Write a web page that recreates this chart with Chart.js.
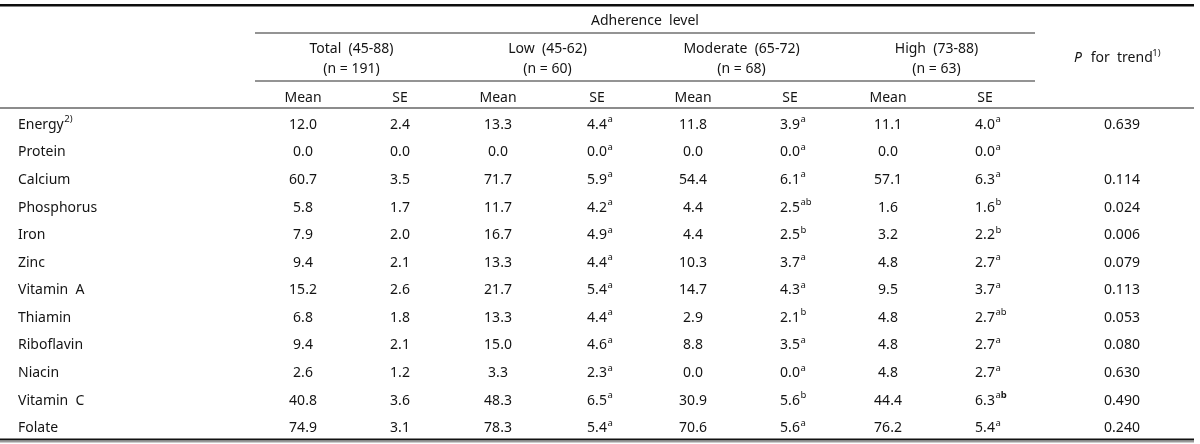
<!DOCTYPE html>
<html>
<head>
<meta charset="utf-8">
<title>Nutrient inadequacy by adherence level</title>
<script src="https://cdn.jsdelivr.net/npm/chart.js@4.4.0/dist/chart.umd.min.js"></script>
<style>
  html, body { margin: 0; padding: 0; background: #fff; }
  #wrap { width: 1200px; height: 444px; position: relative; }
</style>
</head>
<body>
<div id="wrap"><canvas id="tbl"></canvas></div>
<script>
// ---- table data ----
const nutrients = ['Energy', 'Protein', 'Calcium', 'Phosphorus', 'Iron', 'Zinc',
  'Vitamin  A', 'Thiamin', 'Riboflavin', 'Niacin', 'Vitamin  C', 'Folate'];
const nutrientNotes = ['2)', '', '', '', '', '', '', '', '', '', '', ''];

const groupTitles = ['Total  (45-88)', 'Low  (45-62)', 'Moderate  (65-72)', 'High  (73-88)'];
const groupSizes = ['(n = 191)', '(n = 60)', '(n = 68)', '(n = 63)'];

const totalMean = [12.0, 0.0, 60.7, 5.8, 7.9, 9.4, 15.2, 6.8, 9.4, 2.6, 40.8, 74.9];
const totalSE   = [2.4, 0.0, 3.5, 1.7, 2.0, 2.1, 2.6, 1.8, 2.1, 1.2, 3.6, 3.1];

const lowMean = [13.3, 0.0, 71.7, 11.7, 16.7, 13.3, 21.7, 13.3, 15.0, 3.3, 48.3, 78.3];
const lowSE   = [4.4, 0.0, 5.9, 4.2, 4.9, 4.4, 5.4, 4.4, 4.6, 2.3, 6.5, 5.4];
const lowSup  = ['a', 'a', 'a', 'a', 'a', 'a', 'a', 'a', 'a', 'a', 'a', 'a'];

const modMean = [11.8, 0.0, 54.4, 4.4, 4.4, 10.3, 14.7, 2.9, 8.8, 0.0, 30.9, 70.6];
const modSE   = [3.9, 0.0, 6.1, 2.5, 2.5, 3.7, 4.3, 2.1, 3.5, 0.0, 5.6, 5.6];
const modSup  = ['a', 'a', 'a', 'ab', 'b', 'a', 'a', 'b', 'a', 'a', 'b', 'a'];

const highMean = [11.1, 0.0, 57.1, 1.6, 3.2, 4.8, 9.5, 4.8, 4.8, 4.8, 44.4, 76.2];
const highSE   = [4.0, 0.0, 6.3, 1.6, 2.2, 2.7, 3.7, 2.7, 2.7, 2.7, 6.3, 5.4];
const highSup  = ['a', 'a', 'a', 'b', 'b', 'a', 'a', 'ab', 'a', 'a', 'a*b', 'a']; // *b = bold b

const pTrend = [0.639, null, 0.114, 0.024, 0.006, 0.079, 0.113, 0.053, 0.080, 0.630, 0.490, 0.240];

// ---- layout / style ----
const FONT = '"Noto Sans", "Open Sans", sans-serif';
const INK = '#141414';
const COL_X = {
  label: 18,
  totalMean: 303, totalSE: 400,
  lowMean: 498, lowSE: 597,
  modMean: 693, modSE: 790,
  highMean: 888, highSE: 985,
  p: 1122
};
const GROUP_COLS = [['totalMean', 'totalSE'], ['lowMean', 'lowSE'], ['modMean', 'modSE'], ['highMean', 'highSE']];

function column(key, texts, sups, align) {
  return {
    label: key,
    align: align || 'center',
    data: nutrients.map((n, i) => ({ x: COL_X[key], y: n, text: texts[i], sup: sups ? sups[i] : '' })),
    pointRadius: 0,
    showLine: false
  };
}
const f1 = arr => arr.map(v => v.toFixed(1));

const datasets = [
  column('label', nutrients, nutrientNotes, 'left'),
  column('totalMean', f1(totalMean)),
  column('totalSE', f1(totalSE)),
  column('lowMean', f1(lowMean)),
  column('lowSE', f1(lowSE), lowSup),
  column('modMean', f1(modMean)),
  column('modSE', f1(modSE), modSup),
  column('highMean', f1(highMean)),
  column('highSE', f1(highSE), highSup),
  column('p', pTrend.map(v => v === null ? '' : v.toFixed(3)))
];

// draw text with a superscript tail; '*x' in sup = bold x
function drawRich(ctx, x, y, text, sup, align, italicHead) {
  ctx.font = '14px ' + FONT;
  const w = ctx.measureText(text).width;
  ctx.font = '9.5px ' + FONT;
  const sw = sup ? ctx.measureText(sup.replace('*', '')).width : 0;
  let start = x;
  if (align === 'center') start = x - w / 2;
  if (align === 'whole') start = x - (w + sw) / 2;
  ctx.fillStyle = INK;
  ctx.textBaseline = 'alphabetic';
  ctx.textAlign = 'left';
  if (italicHead) {
    ctx.font = 'italic 14px ' + FONT;
    ctx.fillText(italicHead, start, y + 5);
    ctx.font = '14px ' + FONT;
    ctx.fillText(text.slice(italicHead.length), start + ctx.measureText(italicHead).width + 1, y + 5);
  } else {
    ctx.font = '14px ' + FONT;
    ctx.fillText(text, start, y + 5);
  }
  if (!sup) return;
  let sx = start + w + 0.5;
  let bold = false;
  for (const ch of sup) {
    if (ch === '*') { bold = true; continue; }
    ctx.font = (bold ? 'bold ' : '') + '9.5px ' + FONT;
    ctx.fillText(ch, sx, y - 1.5);
    sx += ctx.measureText(ch).width;
    bold = false;
  }
}

const tablePlugin = {
  id: 'tablePlugin',
  afterDatasetsDraw(chart) {
    const ctx = chart.ctx;
    ctx.save();
    chart.data.datasets.forEach((ds, di) => {
      chart.getDatasetMeta(di).data.forEach((pt, i) => {
        const raw = ds.data[i];
        if (raw.text) drawRich(ctx, pt.x, pt.y, raw.text, raw.sup, ds.align);
      });
    });
    ctx.restore();
  },
  afterDraw(chart) {
    const ctx = chart.ctx;
    const xs = chart.scales.x;
    const px = k => xs.getPixelForValue(COL_X[k]);
    const spanL = 255, spanR = 1035, fullR = 1194;
    ctx.save();
    // rules
    ctx.fillStyle = '#0d0d0d';
    ctx.fillRect(0, 4, fullR, 2.5);
    ctx.fillStyle = '#2a2a2a';
    ctx.fillRect(spanL, 32.5, spanR - spanL, 1);
    ctx.fillRect(spanL, 80.5, spanR - spanL, 1);
    ctx.fillStyle = '#8c8c8c';
    ctx.fillRect(0, 107, fullR, 2);
    ctx.fillStyle = '#111';
    ctx.fillRect(0, 438.5, fullR, 2);
    ctx.fillStyle = '#9a9a9a';
    ctx.fillRect(0, 441, fullR, 1.5);

    // header text
    drawRich(ctx, (spanL + spanR) / 2, 20, 'Adherence  level', '', 'center');
    GROUP_COLS.forEach((pair, g) => {
      const cx = (px(pair[0]) + px(pair[1])) / 2;
      drawRich(ctx, cx, 48, groupTitles[g], '', 'center');
      drawRich(ctx, cx, 68, groupSizes[g], '', 'center');
      drawRich(ctx, px(pair[0]), 97, 'Mean', '', 'center');
      drawRich(ctx, px(pair[1]), 97, 'SE', '', 'center');
    });
    drawRich(ctx, px('p') - 5, 57, 'P  for  trend', '1)', 'whole', 'P');
    ctx.restore();
  }
};

new Chart(document.getElementById('tbl'), {
  type: 'scatter',
  data: { datasets },
  options: {
    responsive: true,
    maintainAspectRatio: false,
    animation: false,
    events: [],
    layout: { padding: { top: 110, bottom: 3, left: 0, right: 0 } },
    plugins: { legend: { display: false }, tooltip: { enabled: false } },
    scales: {
      x: { type: 'linear', min: 0, max: 1200, display: false },
      y: { type: 'category', labels: nutrients, offset: true, display: false }
    }
  },
  plugins: [tablePlugin]
});
</script>
</body>
</html>
